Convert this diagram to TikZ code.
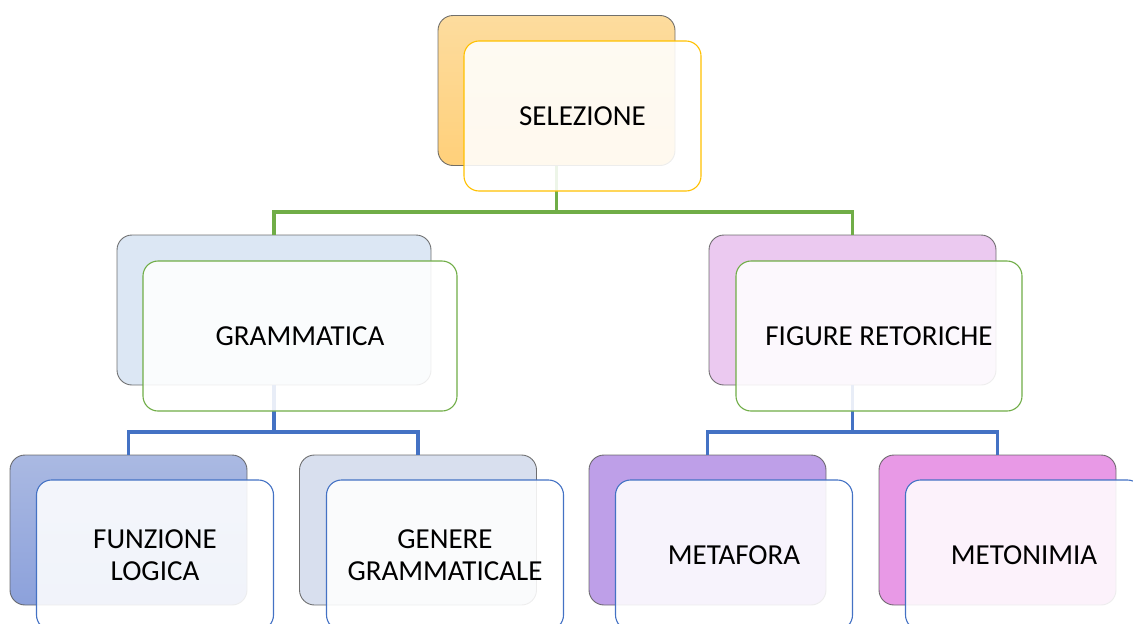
\documentclass[tikz,border=0pt]{standalone}
\usepackage{fontspec}
\setmainfont{Carlito}
\definecolor{cgreen}{HTML}{70AD47}
\definecolor{cblue}{HTML}{4472C4}
\definecolor{cgold}{HTML}{FFC000}
\definecolor{selTop}{HTML}{FDDC9E}
\definecolor{selBot}{HTML}{FFD07A}
\definecolor{gramFill}{HTML}{DCE7F4}
\definecolor{figFill}{HTML}{EBC9F0}
\definecolor{funTop}{HTML}{AAB9E2}
\definecolor{funBot}{HTML}{8CA1DB}
\definecolor{genFill}{HTML}{D8DFEE}
\definecolor{metFill}{HTML}{BE9FE8}
\definecolor{metoFill}{HTML}{E899E6}
\tikzset{
  backbox/.style={rectangle, rounded corners=15pt, draw=black!65, draw opacity=0.85,
    line width=0.9pt, minimum height=150pt, inner sep=0pt, outer sep=0pt},
  frontbox/.style={rectangle, rounded corners=15pt, fill=white, fill opacity=0.88,
    text opacity=1, line width=1.1pt, minimum height=150pt, minimum width=237pt,
    inner sep=0pt, outer sep=0pt, align=center,
    font=\fontsize{29}{31.5}\selectfont},
  conn/.style={line width=3.2pt},
}
\begin{document}
\begin{tikzpicture}[x=1pt,y=-1pt]
\useasboundingbox (0,0) rectangle (1133,624);
\clip (0,0) rectangle (1133,624);
% back boxes
\node[backbox, minimum width=237pt, top color=selTop, bottom color=selBot] (selB) at (556.5,90.5) {};
\node[backbox, minimum width=314pt, fill=gramFill] (gramB) at (274,310) {};
\node[backbox, minimum width=287pt, fill=figFill] (figB) at (852.5,310) {};
\node[backbox, minimum width=237pt, top color=funTop, bottom color=funBot] (funB) at (128.5,530) {};
\node[backbox, minimum width=237pt, fill=genFill] (genB) at (418,530) {};
\node[backbox, minimum width=237pt, fill=metFill] (metB) at (707.5,530) {};
\node[backbox, minimum width=237pt, fill=metoFill] (metoB) at (997.5,530) {};
% connectors
\coordinate (busA) at (556.5,212);
\coordinate (busB) at (274,432);
\coordinate (busC) at (852.5,432);
\draw[conn, cgreen] (selB.south) -- (busA) -| (gramB.north);
\draw[conn, cgreen] (busA) -| (figB.north);
\draw[conn, cblue] (gramB.south) -- (busB) -| (funB.north);
\draw[conn, cblue] (busB) -| (genB.north);
\draw[conn, cblue] (figB.south) -- (busC) -| (metB.north);
\draw[conn, cblue] (busC) -| (metoB.north);
% front boxes
\node[frontbox, draw=cgold] (selF) at (582.5,116) {SELEZIONE};
\node[frontbox, draw=cgreen, minimum width=314pt] (gramF) at (300,336) {GRAMMATICA};
\node[frontbox, draw=cgreen, minimum width=286pt] (figF) at (879,336) {FIGURE RETORICHE};
\node[frontbox, draw=cblue] (funF) at (155,555) {FUNZIONE\\LOGICA};
\node[frontbox, draw=cblue] (genF) at (445,555) {GENERE\\GRAMMATICALE};
\node[frontbox, draw=cblue] (metF) at (734,555) {METAFORA};
\node[frontbox, draw=cblue] (metoF) at (1024,555) {METONIMIA};
\end{tikzpicture}
\end{document}
